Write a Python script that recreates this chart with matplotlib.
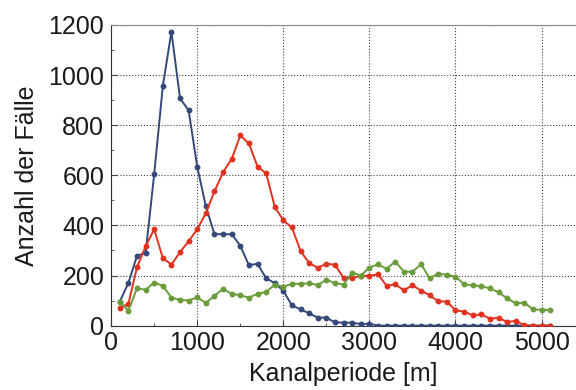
import numpy as np
import matplotlib.pyplot as plt
from matplotlib.ticker import MultipleLocator

plt.rcParams['font.family'] = ['Liberation Sans', 'DejaVu Sans']

periode = list(range(100, 5200, 100))

blau = [96, 170, 279, 290, 605, 956, 1173, 907, 859, 634,
        476, 365, 365, 365, 319, 241, 247, 189, 170, 139,
        81, 65, 49, 32, 32, 13, 12, 12, 6, 8,
        0, 0, 0, 0, 0, 0, 0, 0, 0, 0,
        0, 0, 0, 0, 0, 0, 0, 0, 0, 0, 0]
rot = [71, 87, 233, 316, 385, 269, 244, 293, 337, 385,
       449, 536, 612, 665, 759, 727, 635, 608, 475, 420,
       392, 298, 250, 231, 247, 243, 190, 190, 199, 199,
       205, 159, 165, 141, 161, 140, 121, 97, 96, 61,
       56, 41, 45, 28, 31, 15, 19, 2, 0, 0, 0]
gruen = [96, 60, 149, 143, 172, 159, 112, 103, 100, 113,
         91, 119, 147, 127, 121, 112, 127, 135, 163, 156,
         167, 167, 169, 162, 183, 170, 164, 212, 200, 232,
         245, 227, 256, 216, 215, 245, 189, 208, 203, 195,
         165, 161, 157, 149, 133, 109, 89, 92, 65, 63, 63]

fig = plt.figure(figsize=(5.76, 3.9), dpi=100)
ax = fig.add_axes([0.193, 0.165, 0.807, 0.771])

ax.plot(periode, blau, '-o', color='#34497a', lw=1.4, ms=3.2, zorder=3)
ax.plot(periode, rot, '-o', color='#e0321e', lw=1.4, ms=3.2, zorder=3)
ax.plot(periode, gruen, '-o', color='#6b9c3b', lw=1.4, ms=3.2, zorder=3)

ax.set_xlim(0, 5400)
ax.set_ylim(0, 1200)
ax.xaxis.set_major_locator(MultipleLocator(1000))
ax.xaxis.set_minor_locator(MultipleLocator(500))
ax.yaxis.set_major_locator(MultipleLocator(200))
ax.yaxis.set_minor_locator(MultipleLocator(100))
ax.grid(True, which='major', color='#444444', linestyle=':', linewidth=0.8)
ax.tick_params(which='both', direction='in', labelsize=18, colors='#444444',
               labelcolor='#1a1a1a')
ax.tick_params(axis='x', pad=4)
ax.tick_params(axis='y', pad=5)
ax.tick_params(which='major', length=4)
ax.tick_params(which='minor', length=2.5)

ax.spines['right'].set_visible(False)
ax.spines['top'].set_color('#888888')
ax.spines['left'].set_color('#333333')
ax.spines['bottom'].set_color('#333333')

ax.set_xlabel('Kanalperiode [m]', fontsize=18, color='#1a1a1a', labelpad=5)
ax.set_ylabel('Anzahl der Fälle', fontsize=18, color='#1a1a1a', labelpad=7)

fig.savefig('out.png', dpi=100)
